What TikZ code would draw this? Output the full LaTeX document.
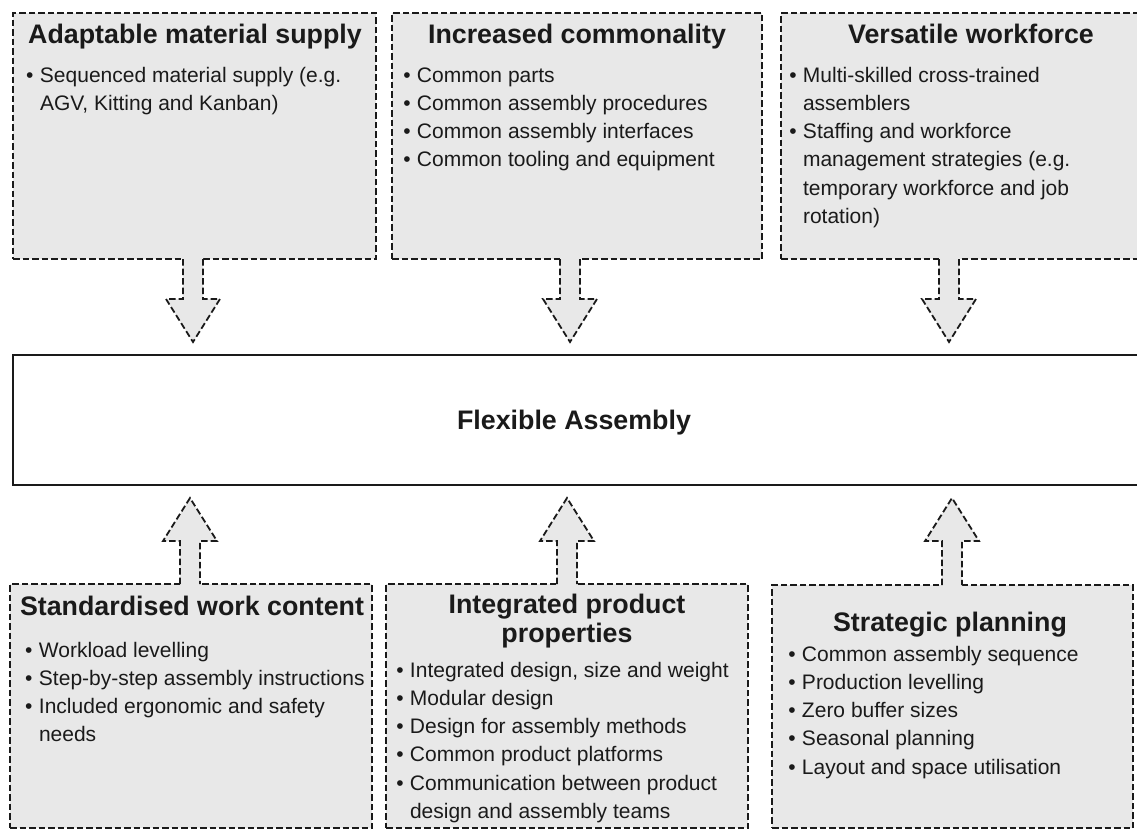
\documentclass[tikz,border=0pt]{standalone}
\usepackage{fontspec}
\setmainfont{Liberation Sans}
\usetikzlibrary{calc}

\definecolor{boxgray}{HTML}{E8E8E8}
\definecolor{ink}{HTML}{1A1A1A}

% bullet hanging to the left of the line start
\newcommand\bp{\llap{\textbullet\hspace{6.4pt}}}

% block arrow: #1 start on panel edge, #2 tip, #3 = 1 pointing down, -1 pointing up
\newcommand\bigarrow[3]{%
  \fill[boxgray] ($(#1)+(-10,{2*(#3)})$) -- ($(#2)+(-10,{43*(#3)})$) -- ($(#2)+(-27,{43*(#3)})$)
     -- (#2) -- ($(#2)+(27,{43*(#3)})$) -- ($(#2)+(10,{43*(#3)})$) -- ($(#1)+(10,{2*(#3)})$) -- cycle;
  \draw[arrowline] ($(#1)+(-10,0)$) -- ($(#2)+(-10,{43*(#3)})$) -- ($(#2)+(-27,{43*(#3)})$)
     -- (#2) -- ($(#2)+(27,{43*(#3)})$) -- ($(#2)+(10,{43*(#3)})$) -- ($(#1)+(10,0)$);
}

\tikzset{
  every node/.style={inner sep=0pt, outer sep=0pt, text=ink},
  panel/.style={rectangle, draw=ink, fill=boxgray, line width=1.8pt,
                dash pattern=on 6.5pt off 3pt, anchor=north west},
  hub/.style={rectangle, draw=ink, fill=white, line width=2.2pt, anchor=north west},
  title/.style={font=\fontsize{26.8}{29}\selectfont\bfseries, anchor=base},
  items/.style={font=\fontsize{21}{28.3}\selectfont, anchor=base west},
  arrowline/.style={draw=ink, line width=1.8pt, dash pattern=on 6.5pt off 3pt, line join=miter},
}

\begin{document}
\begin{tikzpicture}[x=1pt, y=1pt]
  \useasboundingbox (0,0) rectangle (1137,-830);
  \clip (0,0) rectangle (1137,-830);

  % central box
  \node[hub, minimum width=1127pt, minimum height=130pt] (hub) at (13,-355) {};
  \node[title] (hublabel) at (574,-429) {Flexible Assembly};

  % upper panels
  \node[panel, minimum width=363pt, minimum height=246pt] (supply) at (13,-13) {};
  \node[panel, minimum width=370pt, minimum height=246pt] (common) at (392,-13) {};
  \node[panel, minimum width=379pt, minimum height=246pt] (workforce) at (781,-13) {};

  % lower panels
  \node[panel, minimum width=362pt, minimum height=244pt] (stdwork) at (10,-584) {};
  \node[panel, minimum width=362pt, minimum height=244pt] (product) at (386,-584) {};
  \node[panel, minimum width=361pt, minimum height=243pt] (planning) at (772,-585) {};

  % arrows into the central box
  \coordinate (s1) at (193,-259);
  \coordinate (s2) at (570,-259);
  \coordinate (s3) at (949,-259);
  \coordinate (t1) at ($(hub.north -| s1)+(0,13)$);
  \coordinate (t2) at ($(hub.north -| s2)+(0,13)$);
  \coordinate (t3) at ($(hub.north -| s3)+(0,13)$);
  \bigarrow{s1}{t1}{1}
  \bigarrow{s2}{t2}{1}
  \bigarrow{s3}{t3}{1}

  \coordinate (u1) at (190,-584);
  \coordinate (u2) at (567,-584);
  \coordinate (u3) at (952,-585);
  \coordinate (v1) at ($(hub.south -| u1)+(0,-13)$);
  \coordinate (v2) at ($(hub.south -| u2)+(0,-13)$);
  \coordinate (v3) at ($(hub.south -| u3)+(0,-13)$);
  \bigarrow{u1}{v1}{-1}
  \bigarrow{u2}{v2}{-1}
  \bigarrow{u3}{v3}{-1}

  % upper panel texts
  \node[title] (supplytitle) at (195,-43) {Adaptable material supply};
  \node[items] (supplylist) at (40,-82) {\begin{tabular}[t]{@{}l@{}}
    \bp Sequenced material supply (e.g.\\
    AGV, Kitting and Kanban)
  \end{tabular}};

  \node[title] (commontitle) at (577,-43) {Increased commonality};
  \node[items] (commonlist) at (417,-82) {\begin{tabular}[t]{@{}l@{}}
    \bp Common parts\\
    \bp Common assembly procedures\\
    \bp Common assembly interfaces\\
    \bp Common tooling and equipment
  \end{tabular}};

  \node[title] (workforcetitle) at (971,-43) {Versatile workforce};
  \node[items] (workforcelist) at (803,-82) {\begin{tabular}[t]{@{}l@{}}
    \bp Multi-skilled cross-trained\\
    assemblers\\
    \bp Staffing and workforce\\
    management strategies (e.g.\\
    temporary workforce and job\\
    rotation)
  \end{tabular}};

  % lower panel texts
  \node[title] (stdworktitle) at (192,-615) {Standardised work content};
  \node[items] (stdworklist) at (39,-657) {\begin{tabular}[t]{@{}l@{}}
    \bp Workload levelling\\
    \bp Step-by-step assembly instructions\\
    \bp Included ergonomic and safety\\
    needs
  \end{tabular}};

  \node[title] (producttitle) at (567,-613) {\begin{tabular}[t]{@{}c@{}}
    Integrated product\\ properties
  \end{tabular}};
  \node[items] (productlist) at (410,-677) {\begin{tabular}[t]{@{}l@{}}
    \bp Integrated design, size and weight\\
    \bp Modular design\\
    \bp Design for assembly methods\\
    \bp Common product platforms\\
    \bp Communication between product\\
    design and assembly teams
  \end{tabular}};

  \node[title] (planningtitle) at (950,-631) {Strategic planning};
  \node[items] (planninglist) at (802,-661) {\begin{tabular}[t]{@{}l@{}}
    \bp Common assembly sequence\\
    \bp Production levelling\\
    \bp Zero buffer sizes\\
    \bp Seasonal planning\\
    \bp Layout and space utilisation
  \end{tabular}};
\end{tikzpicture}
\end{document}
